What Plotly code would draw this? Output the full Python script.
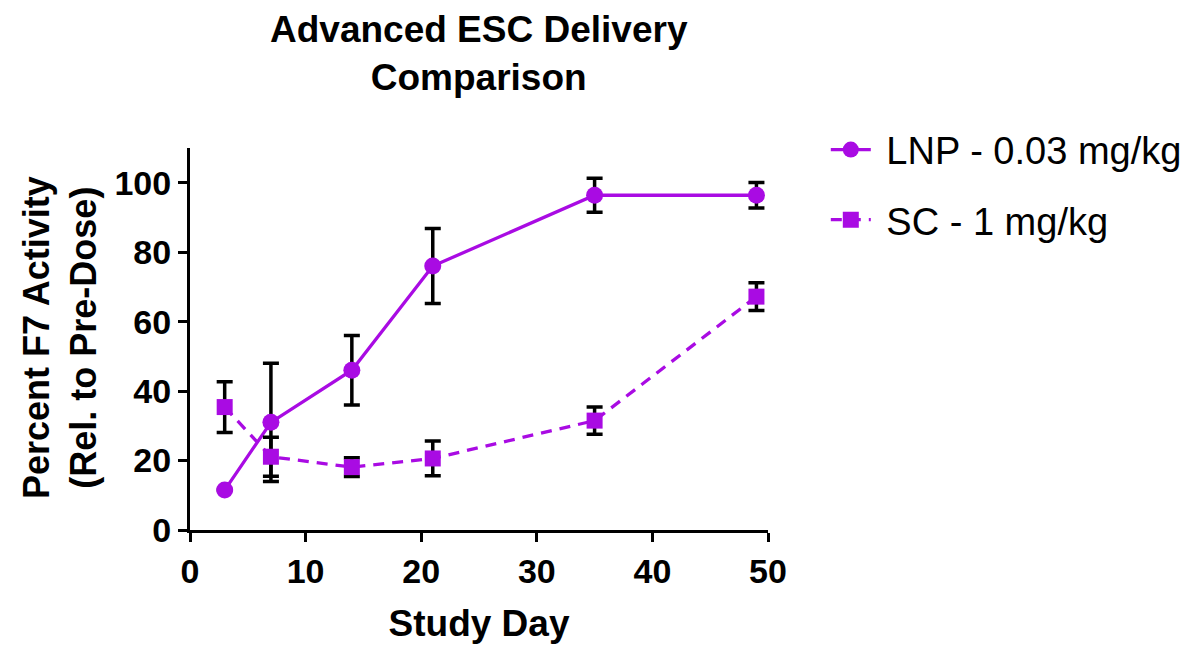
import plotly.graph_objects as go

days = [3, 7, 14, 21, 35, 49]
lnp_mean = [11.5, 31.0, 46.0, 76.0, 96.4, 96.4]
lnp_err = [0.0, 17.0, 10.0, 10.8, 4.9, 3.7]
sc_mean = [35.4, 21.1, 18.1, 20.6, 31.5, 67.2]
sc_err = [7.3, 5.6, 2.7, 5.0, 3.9, 4.0]

x_ticks = [0, 10, 20, 30, 40, 50]
y_ticks = [0, 20, 40, 60, 80, 100]

purple = "#A90BE3"
font_family = "Liberation Sans, Arial, sans-serif"

fig = go.Figure()
fig.add_trace(go.Scatter(
    x=days, y=lnp_mean, name="\u00a0LNP - 0.03 mg/kg",
    mode="lines+markers",
    line=dict(color=purple, width=3.3),
    marker=dict(symbol="circle", size=17, color=purple),
    error_y=dict(type="data", array=lnp_err, color="black", thickness=3.5, width=8),
    cliponaxis=False, legend="legend",
))
fig.add_trace(go.Scatter(
    x=days, y=sc_mean, name="\u00a0SC - 1 mg/kg",
    mode="lines+markers",
    line=dict(color=purple, width=3.3, dash="11px,8px"),
    marker=dict(symbol="square", size=16, color=purple),
    error_y=dict(type="data", array=sc_err, color="black", thickness=3.5, width=8),
    cliponaxis=False, legend="legend2",
))

fig.update_layout(
    width=1194, height=645,
    margin=dict(l=190, r=426, t=148, b=115, autoexpand=False),
    paper_bgcolor="white", plot_bgcolor="white",
    font=dict(family=font_family, color="black"),
    xaxis=dict(
        range=[0, 50], tickvals=x_ticks, ticktext=[str(v) for v in x_ticks],
        showline=True, linecolor="black", linewidth=3,
        ticks="outside", ticklen=9, tickwidth=3, tickcolor="black",
        showgrid=False, zeroline=False, automargin=False,
        tickfont=dict(size=34, family=font_family, weight="bold"),
        title=dict(text="<b>Study Day</b>", font=dict(size=37), standoff=22),
    ),
    yaxis=dict(
        range=[0, 110], tickvals=y_ticks, ticktext=[str(v) for v in y_ticks],
        showline=True, linecolor="black", linewidth=3,
        ticks="outside", ticklen=9, tickwidth=3, tickcolor="black",
        showgrid=False, zeroline=False, automargin=False,
        tickfont=dict(size=34, family=font_family, weight="bold"),
    ),
    legend=dict(
        x=1.1, y=0.995, xanchor="left", yanchor="middle",
        itemwidth=40,
        font=dict(size=38, family=font_family), bgcolor="rgba(0,0,0,0)",
    ),
    legend2=dict(
        x=1.1, y=0.8115, xanchor="left", yanchor="middle",
        itemwidth=40,
        font=dict(size=38, family=font_family), bgcolor="rgba(0,0,0,0)",
    ),
    showlegend=True,
)

fig.add_annotation(
    text="<b>Advanced ESC Delivery<br>Comparison</b>",
    xref="paper", yref="paper", x=0.5, y=1.37,
    xanchor="center", yanchor="top",
    showarrow=False, font=dict(size=37, family=font_family, color="black"),
)

fig.add_annotation(
    text="<b>Percent F7 Activity<br>(Rel. to Pre-Dose)</b>",
    xref="paper", yref="paper", x=-0.225, y=0.505,
    xanchor="center", yanchor="middle", textangle=-90,
    showarrow=False, font=dict(size=36, family=font_family, color="black"),
)

fig.write_html("out.html")
